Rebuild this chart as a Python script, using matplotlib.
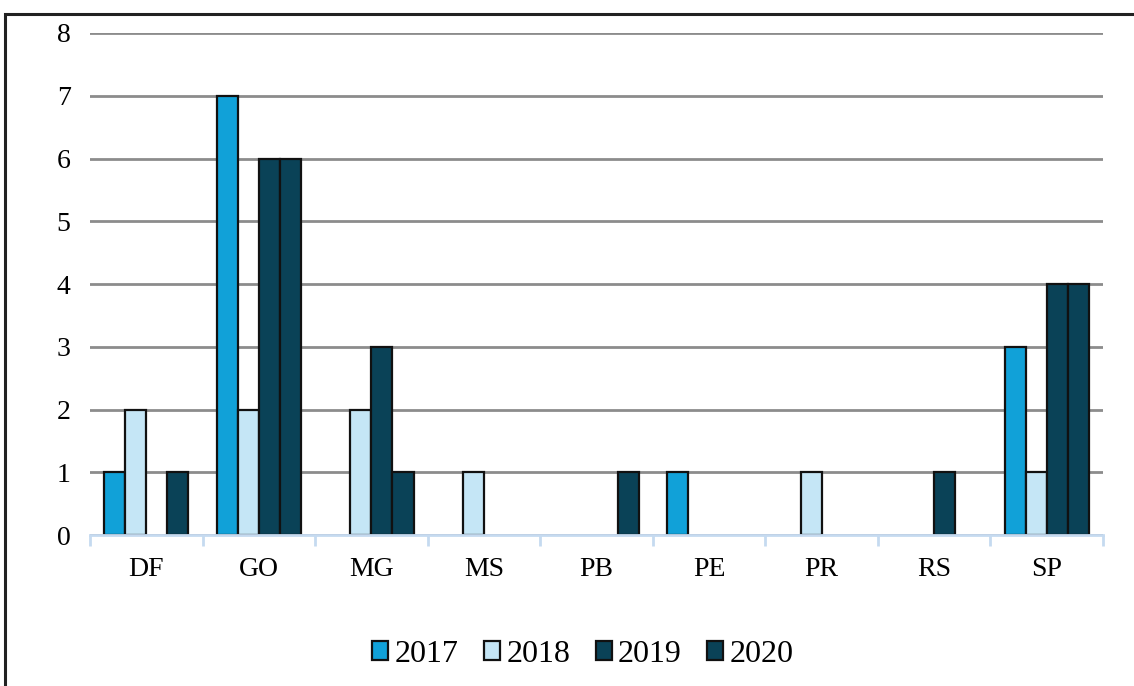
import numpy as np
import matplotlib.pyplot as plt
from matplotlib.patches import Rectangle

states = ["DF", "GO", "MG", "MS", "PB", "PE", "PR", "RS", "SP"]
years = ["2017", "2018", "2019", "2020"]
v2017 = [1, 7, 0, 0, 0, 1, 0, 0, 3]
v2018 = [2, 2, 2, 1, 0, 0, 1, 0, 1]
v2019 = [0, 6, 3, 0, 0, 0, 0, 1, 4]
v2020 = [1, 6, 1, 0, 1, 0, 0, 0, 4]
colors = ["#11a1d8", "#c5e6f6", "#0a4257", "#0a4257"]

plt.rcParams['font.family'] = ['Liberation Serif', 'DejaVu Serif']

fig = plt.figure(figsize=(11.34, 6.86), dpi=100)
ax = fig.add_axes([0.0794, 0.2201, 0.8933, 0.7318])

# outer frame of the original chart (partly cut off)
fig.patches.append(Rectangle((0.0045, -0.2), 1.2, 1.2 - 13.5 / 686, transform=fig.transFigure,
                             fill=False, edgecolor="#222222", linewidth=2.2))

x = np.arange(len(states))
w = 0.187
series = [v2017, v2018, v2019, v2020]
for i, (vals, c, yr) in enumerate(zip(series, colors, years)):
    vals = np.array(vals, dtype=float)
    vals[vals == 0] = np.nan  # empty cells get no bar
    ax.bar(x + (i - 1.5) * w, vals, width=w, color=c, edgecolor="#111111",
           linewidth=1.6, label=yr, zorder=3)

ax.set_xlim(-0.5, len(states) - 0.5)
ax.set_ylim(0, 8)
ax.set_yticks(range(0, 9))
ax.yaxis.grid(True, color="#8c8c8c", linewidth=2, zorder=0)
ax.set_axisbelow(True)

for s in ["top", "right", "left"]:
    ax.spines[s].set_visible(False)
ax.spines["bottom"].set_color("#c5daf0")
ax.spines["bottom"].set_linewidth(2)
ax.spines["bottom"].set_zorder(4)

ax.set_xticks(x)
ax.set_xticklabels(states)
ax.set_xticks(np.arange(-0.5, len(states)), minor=True)
ax.tick_params(axis="x", which="major", length=0, pad=16, labelsize=20)
ax.tick_params(axis="x", which="minor", length=8, width=2, color="#c5daf0")
ax.tick_params(axis="y", length=0, pad=14, labelsize=20)

leg = fig.legend(loc="center", bbox_to_anchor=(0.514, 0.046), ncol=4, frameon=False,
                 fontsize=23, handlelength=0.5, handleheight=0.5, handletextpad=0.2,
                 columnspacing=0.8)

fig.savefig("out.png", dpi=100)
